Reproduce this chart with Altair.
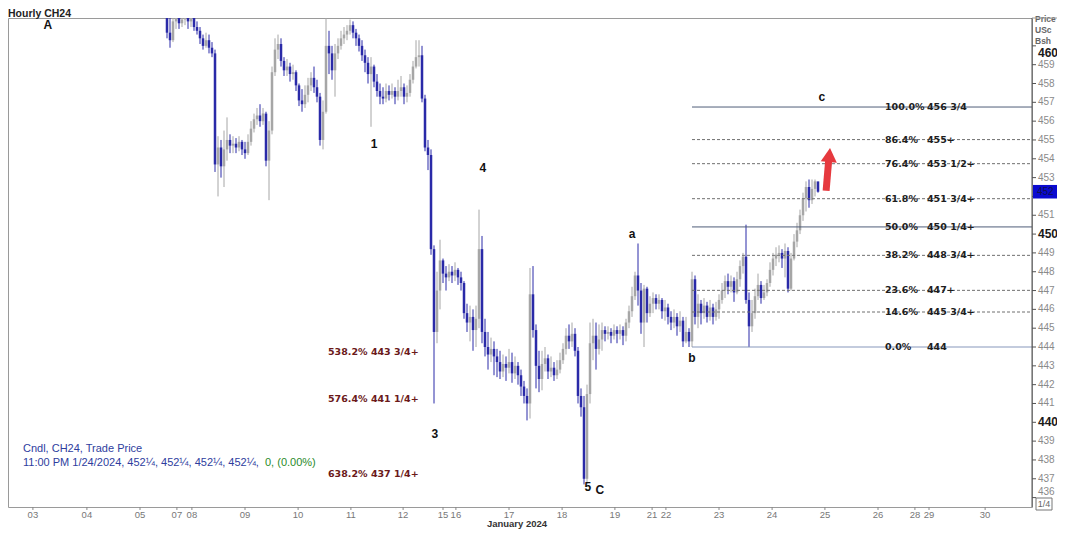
import altair as alt
import pandas as pd

# ---------------- data ----------------
bar_index = list(range(51, 269))  # hourly bar number (270-bar window)

opens = [
    462.0, 460.7, 460.3, 461.3, 461.5, 461.2, 461.4, 461.6, 461.3, 461.5,
    461.0, 460.8, 460.4, 460.0, 460.3, 459.9, 459.6, 453.7, 454.6, 453.6,
    454.5, 455.0, 454.7, 454.8, 454.6, 454.9, 454.5, 454.3, 454.9, 455.6,
    456.1, 456.3, 456.0, 456.4, 453.9, 455.5, 458.6, 459.8, 460.1, 459.2,
    458.7, 458.9, 458.5, 458.6, 457.9, 457.1, 456.9, 457.4, 457.9, 458.3,
    457.8, 457.3, 455.0, 456.5, 460.0, 459.6, 458.7, 459.6, 460.0, 460.4,
    460.6, 460.8, 461.1, 460.7, 460.4, 460.0, 459.5, 459.1, 458.5, 458.9,
    458.1, 457.6, 457.3, 457.2, 457.6, 457.4, 457.6, 457.3, 457.6, 457.8,
    457.3, 457.5, 458.2, 458.9, 459.4, 459.5, 457.2, 454.6, 454.2, 449.2,
    444.8, 447.0, 448.6, 447.9, 447.7, 448.0, 447.8, 448.1, 447.7, 447.4,
    445.8, 445.3, 445.6, 444.9, 445.5, 449.2, 444.8, 444.0, 443.6, 443.9,
    443.5, 443.2, 442.7, 443.1, 442.9, 443.2, 442.6, 443.0, 442.5, 441.9,
    441.4, 441.0, 446.8, 444.9, 443.0, 442.3, 443.1, 443.4, 442.7, 442.9,
    442.5, 442.8, 443.3, 443.9, 444.6, 444.3, 444.7, 443.8, 441.4, 440.8,
    437.0, 441.5, 444.2, 444.6, 443.9, 444.4, 444.9, 444.7, 444.8, 444.6,
    444.9, 444.7, 444.9, 444.6, 445.3, 445.9, 446.7, 447.8, 447.0, 445.3,
    447.1, 445.8, 446.3, 446.6, 446.3, 446.5, 445.9, 446.1, 445.6, 445.3,
    445.6, 445.1, 445.4, 444.3, 444.8, 444.3, 447.6, 445.6, 446.3, 445.8,
    446.2, 445.6, 446.1, 445.6, 446.0, 446.5, 447.0, 447.5, 447.2, 447.5,
    446.9, 447.6, 448.3, 448.8, 446.5, 445.1, 445.8, 446.7, 447.3, 446.6,
    446.9, 447.4, 448.1, 448.7, 448.9, 449.0, 448.7, 449.1, 447.1, 448.7,
    449.6, 450.2, 451.0, 451.9, 452.5, 451.8, 452.4, 452.8,
]
highs = [
    462.5, 461.6, 461.8, 461.8, 461.8, 461.8, 461.9, 461.8, 462.0, 461.6,
    461.3, 461.0, 460.6, 460.7, 460.6, 460.2, 459.8, 455.2, 455.0, 455.5,
    456.2, 455.3, 455.2, 455.1, 455.2, 455.0, 454.9, 455.3, 456.0, 456.4,
    456.7, 456.9, 456.7, 456.5, 456.0, 458.9, 460.4, 460.6, 460.4, 459.4,
    459.3, 459.1, 459.0, 458.7, 458.0, 457.7, 457.9, 458.3, 458.6, 458.9,
    458.2, 457.5, 457.1, 461.8, 460.8, 460.0, 460.1, 460.4, 460.8, 461.0,
    461.1, 461.4, 461.3, 460.9, 460.6, 460.3, 459.8, 459.4, 459.4, 459.0,
    458.5, 458.0, 457.8, 458.0, 457.9, 458.0, 457.8, 458.2, 458.4, 458.0,
    457.9, 458.5, 459.2, 460.3, 460.3, 460.0, 457.4, 455.0, 454.5, 449.4,
    448.0, 449.7, 448.7, 448.3, 448.4, 448.3, 448.5, 448.2, 448.0, 447.5,
    446.3, 446.2, 446.0, 446.2, 451.3, 449.9, 445.5, 444.8, 444.5, 444.3,
    443.9, 443.8, 443.6, 443.5, 443.9, 443.7, 443.5, 443.2, 442.8, 442.2,
    441.8, 448.2, 448.3, 445.2, 443.8, 443.8, 444.0, 443.6, 443.5, 443.2,
    443.3, 443.7, 444.2, 445.0, 445.2, 445.3, 445.0, 444.0, 441.8, 441.4,
    442.0, 445.3, 445.5, 445.3, 445.2, 445.3, 445.1, 445.1, 445.0, 445.2,
    445.1, 445.2, 445.1, 445.5, 446.2, 447.2, 448.0, 449.5, 447.4, 447.3,
    447.2, 446.7, 446.9, 446.8, 446.8, 446.6, 446.5, 446.3, 445.9, 446.0,
    445.8, 445.9, 445.6, 445.6, 445.0, 448.0, 447.8, 446.8, 446.5, 446.6,
    446.4, 446.5, 446.3, 446.4, 446.8, 447.4, 447.8, 447.9, 447.8, 447.7,
    448.0, 448.6, 449.0, 450.5, 446.9, 446.5, 447.1, 447.9, 447.5, 447.3,
    447.6, 448.5, 449.0, 449.3, 449.4, 449.2, 449.5, 449.3, 449.0, 450.0,
    450.6, 451.3, 452.2, 452.8, 452.9, 452.9, 452.9, 452.5,
]
lows = [
    460.4, 459.9, 460.2, 460.9, 460.9, 461.0, 461.1, 460.9, 461.0, 460.8,
    460.6, 460.1, 459.8, 459.9, 459.6, 459.4, 453.3, 452.0, 453.0, 452.5,
    453.9, 454.3, 454.3, 454.3, 454.4, 454.2, 454.0, 454.2, 454.7, 455.4,
    455.8, 455.7, 455.8, 453.6, 451.8, 455.3, 458.4, 459.3, 458.9, 458.4,
    458.4, 458.1, 458.2, 457.6, 456.8, 456.5, 456.7, 457.0, 457.6, 457.5,
    457.0, 454.7, 454.5, 456.4, 458.5, 458.2, 457.3, 459.3, 459.8, 460.1,
    460.3, 460.6, 460.4, 460.0, 459.7, 459.2, 458.6, 458.0, 455.7, 457.8,
    457.3, 456.9, 456.9, 457.0, 457.1, 457.2, 456.9, 457.1, 457.3, 456.9,
    457.0, 457.3, 458.0, 458.8, 458.9, 457.0, 454.4, 453.4, 448.9, 441.0,
    444.2, 446.0, 447.4, 447.0, 447.5, 447.4, 447.5, 447.3, 447.0, 445.5,
    444.8, 444.3, 443.8, 444.0, 445.0, 444.2, 443.5, 442.8, 443.2, 442.5,
    442.4, 442.3, 442.4, 442.2, 442.6, 442.1, 442.3, 442.0, 441.4, 441.0,
    440.1, 440.2, 444.5, 441.8, 441.6, 441.7, 442.7, 442.3, 442.4, 442.2,
    442.3, 442.6, 443.1, 443.6, 443.9, 444.0, 443.5, 441.0, 440.3, 436.7,
    436.7, 441.0, 443.3, 442.8, 443.6, 443.8, 444.3, 444.4, 444.2, 444.4,
    444.2, 444.4, 444.1, 444.3, 445.0, 445.6, 446.5, 446.2, 444.7, 444.0,
    445.3, 445.6, 445.8, 446.0, 446.0, 445.5, 445.4, 445.2, 444.9, 445.0,
    444.6, 444.8, 444.0, 444.2, 444.0, 444.0, 445.2, 445.0, 445.2, 445.5,
    445.3, 445.4, 445.2, 445.4, 445.5, 446.3, 446.6, 446.8, 446.9, 446.4,
    446.8, 447.2, 447.9, 446.3, 444.0, 444.8, 445.5, 446.5, 446.3, 446.5,
    446.7, 447.2, 447.8, 448.3, 448.5, 448.2, 447.7, 446.9, 447.0, 448.6,
    449.3, 450.0, 450.7, 451.2, 451.4, 451.6, 452.0, 452.2,
]
closes = [
    460.7, 460.3, 461.3, 461.5, 461.2, 461.4, 461.6, 461.3, 461.5, 461.0,
    460.8, 460.4, 460.0, 460.3, 459.9, 459.6, 453.7, 454.6, 453.6, 454.5,
    455.0, 454.7, 454.8, 454.6, 454.9, 454.5, 454.3, 454.9, 455.6, 456.1,
    456.3, 456.0, 456.4, 453.9, 455.5, 458.6, 459.8, 460.1, 459.2, 458.7,
    458.9, 458.5, 458.6, 457.9, 457.1, 456.9, 457.4, 457.9, 458.3, 457.8,
    457.3, 455.0, 456.5, 460.0, 459.6, 458.7, 459.6, 460.0, 460.4, 460.6,
    460.8, 461.1, 460.7, 460.4, 460.0, 459.5, 459.1, 458.5, 458.9, 458.1,
    457.6, 457.3, 457.2, 457.6, 457.4, 457.6, 457.3, 457.6, 457.8, 457.3,
    457.5, 458.2, 458.9, 459.4, 459.5, 457.2, 454.6, 454.2, 449.2, 444.8,
    447.0, 448.6, 447.9, 447.7, 448.0, 447.8, 448.1, 447.7, 447.4, 445.8,
    445.3, 445.6, 444.9, 445.5, 449.2, 444.8, 444.0, 443.6, 443.9, 443.5,
    443.2, 442.7, 443.1, 442.9, 443.2, 442.6, 443.0, 442.5, 441.9, 441.4,
    441.0, 446.8, 444.9, 443.0, 442.3, 443.1, 443.4, 442.7, 442.9, 442.5,
    442.8, 443.3, 443.9, 444.6, 444.3, 444.7, 443.8, 441.4, 440.8, 437.0,
    441.5, 444.2, 444.6, 443.9, 444.4, 444.9, 444.7, 444.8, 444.6, 444.9,
    444.7, 444.9, 444.6, 445.3, 445.9, 446.7, 447.8, 447.0, 445.3, 447.1,
    445.8, 446.3, 446.6, 446.3, 446.5, 445.9, 446.1, 445.6, 445.3, 445.6,
    445.1, 445.4, 444.3, 444.8, 444.3, 447.6, 445.6, 446.3, 445.8, 446.2,
    445.6, 446.1, 445.6, 446.0, 446.5, 447.0, 447.5, 447.2, 447.5, 446.9,
    447.6, 448.3, 448.8, 446.5, 445.1, 445.8, 446.7, 447.3, 446.6, 446.9,
    447.4, 448.1, 448.7, 448.9, 449.0, 448.7, 449.1, 447.1, 448.7, 449.6,
    450.2, 451.0, 451.9, 452.5, 451.8, 452.4, 452.8, 452.25,
]

day_slots = [6.3, 24.3, 42, 54.3, 59.3, 77, 94.7, 112.3, 129.7, 143, 147.3, 165,
             182.7, 200.3, 212.7, 217.3, 235, 252.7, 270.3, 288, 300.3, 305, 323.7]
day_labels = ["03", "04", "05", "07", "08", "09", "10", "11", "12", "15", "16", "17",
              "18", "19", "21", "22", "23", "24", "25", "26", "28", "29", "30"]

price_ticks = list(range(436, 461))

fib_pct = ["100.0%", "86.4%", "76.4%", "61.8%", "50.0%", "38.2%", "23.6%", "14.6%", "0.0%"]
fib_price = [456.75, 455.02, 453.74, 451.88, 450.38, 448.87, 447.01, 445.86, 444.0]
fib_value = ["456 3/4", "455+", "453 1/2+", "451 3/4+", "450 1/4+", "448 3/4+", "447+", "445 3/4+", "444"]
fib_start_bar = 226  # wave b low

ext_text = ["538.2% 443 3/4+", "576.4% 441 1/4+", "638.2% 437 1/4+"]
ext_price = [443.75, 441.25, 437.25]

wave_text = ["A", "1", "4", "3", "a", "b", "5", "C", "c"]
wave_bar = [11.3, 120, 156.3, 140.3, 206, 226, 191.3, 195.3, 269.3]
wave_price = [461.1, 454.8, 453.5, 439.4, 450.0, 443.4, 436.56, 436.4, 457.28]

arrow_from = (270.7, 452.3)
arrow_to = (271.6, 454.0)
arrow_head = (271.8, 454.2)

last_price = 452.25

# ---------------- chart ----------------
W, H = 1024, 489
RPAD = 25
xs = alt.Scale(domain=[-2, 339.33], nice=False, zero=False)
ys = alt.Scale(domain=[435.5, 461.48], nice=False, zero=False)

DOWN = "#2a2aa8"
UP = "#a6a6a6"

bars = pd.DataFrame(dict(i=bar_index, open=opens, high=highs, low=lows, close=closes))
col = alt.condition("datum.close < datum.open", alt.value(DOWN), alt.value(UP))

wick = alt.Chart(bars).mark_rule(strokeWidth=1, clip=True).encode(
    x=alt.X("i:Q", scale=xs, axis=None),
    y=alt.Y("low:Q", scale=ys, axis=None),
    y2="high:Q",
    color=col,
)
body = alt.Chart(bars).transform_calculate(
    xa="datum.i - 0.42", xb="datum.i + 0.42"
).mark_rect(clip=True).encode(
    x=alt.X("xa:Q", scale=xs, axis=None), x2="xb:Q",
    y=alt.Y("open:Q", scale=ys, axis=None), y2="close:Q",
    color=col,
)

# ---- right-hand price scale, drawn from the tick list ----
ticks_df = pd.DataFrame(dict(p=price_ticks))
ticks_df["t"] = ticks_df["p"].astype(str)
axis_line = alt.Chart(pd.DataFrame({"t": [0]})).mark_rule(color="#555555").encode(
    x=alt.value(W), y=alt.value(0), y2=alt.value(H))
tick_marks = alt.Chart(ticks_df).mark_rule(color="#555555").encode(
    x=alt.value(W), x2=alt.value(W + 4), y=alt.Y("p:Q", scale=ys, axis=None))
tick_norm = alt.Chart(ticks_df).transform_filter(
    "datum.p % 10 !== 0 && datum.p !== 436 && datum.p !== 452").mark_text(
    align="left", baseline="middle", font="Liberation Sans", fontSize=10,
    color="#8a8a8a").encode(
    x=alt.value(W + 6), y=alt.Y("p:Q", scale=ys, axis=None), text="t:N")
tick_bold = alt.Chart(ticks_df).transform_filter(
    "datum.p % 10 === 0 && datum.p !== 460").mark_text(
    align="left", baseline="middle", font="Liberation Sans", fontSize=12, fontWeight="bold",
    color="#1a1a1a").encode(
    x=alt.value(W + 6), y=alt.Y("p:Q", scale=ys, axis=None), text="t:N")
tick_top = alt.Chart(ticks_df).transform_filter("datum.p === 460").mark_text(
    align="left", baseline="middle", dy=7, font="Liberation Sans", fontSize=12,
    fontWeight="bold", color="#1a1a1a").encode(
    x=alt.value(W + 6), y=alt.Y("p:Q", scale=ys, axis=None), text="t:N")
tick_bot = alt.Chart(ticks_df).transform_filter("datum.p === 436").mark_text(
    align="left", baseline="middle", dy=-6, font="Liberation Sans", fontSize=10,
    color="#8a8a8a").encode(
    x=alt.value(W + 6), y=alt.Y("p:Q", scale=ys, axis=None), text="t:N")

fib = pd.DataFrame(dict(pct=fib_pct, price=fib_price, val=fib_value))
fib_base = alt.Chart(fib).transform_calculate(x0=str(fib_start_bar), x1="339.33")
fib_solid = fib_base.transform_filter("datum.pct === '100.0%' || datum.pct === '50.0%'").mark_rule(
    color="#4f5d78", strokeWidth=1).encode(
    x=alt.X("x0:Q", scale=xs, axis=None), x2="x1:Q", y=alt.Y("price:Q", scale=ys, axis=None))
fib_zero = fib_base.transform_filter("datum.pct === '0.0%'").mark_rule(
    color="#8797bb", strokeWidth=1).encode(
    x=alt.X("x0:Q", scale=xs, axis=None), x2="x1:Q", y=alt.Y("price:Q", scale=ys, axis=None))
fib_dash = fib_base.transform_filter(
    "datum.pct !== '100.0%' && datum.pct !== '50.0%' && datum.pct !== '0.0%'").mark_rule(
    color="#6f6f6f", strokeWidth=1, strokeDash=[3, 2]).encode(
    x=alt.X("x0:Q", scale=xs, axis=None), x2="x1:Q", y=alt.Y("price:Q", scale=ys, axis=None))
fib_pct_txt = alt.Chart(fib).mark_text(
    align="left", baseline="middle", font="DejaVu Sans", fontWeight="bold", fontSize=9.5,
    color="#1e1e1e").encode(
    x=alt.value(877), y=alt.Y("price:Q", scale=ys, axis=None), text="pct:N")
fib_val_txt = alt.Chart(fib).mark_text(
    align="left", baseline="middle", font="DejaVu Sans", fontWeight="bold", fontSize=9.5,
    color="#1e1e1e").encode(
    x=alt.value(919), y=alt.Y("price:Q", scale=ys, axis=None), text="val:N")

ext = pd.DataFrame(dict(t=ext_text, price=ext_price))
ext_txt = alt.Chart(ext).mark_text(
    align="left", baseline="middle", font="DejaVu Sans", fontWeight="bold", fontSize=9.5,
    color="#6b1a1a").encode(
    x=alt.value(320), y=alt.Y("price:Q", scale=ys, axis=None), text="t:N")

waves = pd.DataFrame(dict(t=wave_text, i=wave_bar, price=wave_price))
wave_txt = alt.Chart(waves).mark_text(
    align="center", baseline="middle", font="Liberation Sans", fontWeight="bold", fontSize=12,
    color="#111111").encode(
    x=alt.X("i:Q", scale=xs, axis=None), y=alt.Y("price:Q", scale=ys, axis=None), text="t:N")

arrow_df = pd.DataFrame(dict(i=[arrow_from[0]], p=[arrow_from[1]], i2=[arrow_to[0]], p2=[arrow_to[1]]))
shaft = alt.Chart(arrow_df).mark_rule(color="#e6393e", strokeWidth=7, strokeCap="butt").encode(
    x=alt.X("i:Q", scale=xs, axis=None), x2="i2:Q",
    y=alt.Y("p:Q", scale=ys, axis=None), y2="p2:Q")
head_df = pd.DataFrame(dict(i=[arrow_head[0]], p=[arrow_head[1]]))
head = alt.Chart(head_df).mark_point(
    shape="triangle-up", filled=True, size=260, angle=5, color="#e6393e", opacity=1).encode(
    x=alt.X("i:Q", scale=xs, axis=None), y=alt.Y("p:Q", scale=ys, axis=None))

days = pd.DataFrame(dict(i=day_slots, t=day_labels))
day_ticks = alt.Chart(days).mark_rule(color="#888888").encode(
    x=alt.X("i:Q", scale=xs, axis=None), y=alt.value(H), y2=alt.value(H + 3))
day_txt = alt.Chart(days).mark_text(
    baseline="middle", font="Liberation Sans", fontSize=9.5, color="#777777").encode(
    x=alt.X("i:Q", scale=xs, axis=None), y=alt.value(H + 8), text="t:N")

def label(text, x, y, **kw):
    return alt.Chart(pd.DataFrame({"t": [text]})).mark_text(**kw).encode(
        text="t:N", x=alt.value(x), y=alt.value(y))

month_txt = label("January 2024", 509, H + 17, baseline="middle", font="Liberation Sans",
                  fontSize=9.5, fontWeight="bold", color="#333333")
title_txt = label("Hourly CH24", 0, -1, align="left", baseline="alphabetic",
                  font="Liberation Sans", fontSize=10.5, fontWeight="bold", color="#222222")
header_txt = label("Price\nUSc\nBsh", W + 3, 1, align="left", baseline="middle", lineBreak="\n",
                   lineHeight=11, font="Liberation Sans", fontSize=8.5, fontWeight="bold",
                   color="#666666")
leg1 = label("Cndl, CH24, Trade Price", 15, 431, align="left", baseline="middle",
             font="Liberation Sans", fontSize=11, color="#2e3d9e")
leg2 = label("11:00 PM 1/24/2024, 452\u00bc, 452\u00bc, 452\u00bc, 452\u00bc,", 15, 445,
             align="left", baseline="middle", font="Liberation Sans", fontSize=11, color="#2e3d9e")
leg3 = label("0, (0.00%)", 257, 445, align="left", baseline="middle",
             font="Liberation Sans", fontSize=11, color="#2a8a2a")

price_df = pd.DataFrame(dict(p=[last_price]))
price_box = alt.Chart(price_df).transform_calculate(
    lo="datum.p - 0.36", hi="datum.p + 0.36").mark_rect(color="#0a0ad0").encode(
    x=alt.value(W + 1), x2=alt.value(W + RPAD),
    y=alt.Y("lo:Q", scale=ys, axis=None), y2="hi:Q")
price_txt = alt.Chart(price_df).mark_text(
    align="left", baseline="middle", font="Liberation Sans", fontSize=10, color="#101050").encode(
    x=alt.value(W + 5), y=alt.Y("p:Q", scale=ys, axis=None), text=alt.value("452"))

frac_box = alt.Chart(pd.DataFrame({"t": ["1/4"]})).mark_rect(
    fill="white", stroke="#777777", strokeWidth=1).encode(
    x=alt.value(W + 4), x2=alt.value(W + 20), y=alt.value(H - 9), y2=alt.value(H + 3))
frac_txt = label("1/4", W + 12, H - 3, align="center", baseline="middle",
                 font="Liberation Sans", fontSize=9, color="#666666")
top_line = alt.Chart(pd.DataFrame({"t": [0]})).mark_rule(color="#9a9a9a").encode(
    x=alt.value(W), x2=alt.value(W + RPAD), y=alt.value(0))

chart = alt.layer(
    wick, body,
    fib_dash, fib_solid, fib_zero,
    fib_pct_txt, fib_val_txt, ext_txt, wave_txt,
    shaft, head,
    axis_line, tick_marks, tick_norm, tick_bold, tick_top, tick_bot,
    day_ticks, day_txt, month_txt, title_txt, header_txt,
    leg1, leg2, leg3, price_box, price_txt, frac_box, frac_txt, top_line,
).properties(
    width=W, height=H,
    autosize=alt.AutoSizeParams(type="none"),
    padding={"left": 0, "top": 10, "right": RPAD, "bottom": 22},
    background="white",
).configure_view(stroke="#9a9a9a", strokeWidth=1)

chart.save("out.html", embed_options={"renderer": "svg", "actions": False})
